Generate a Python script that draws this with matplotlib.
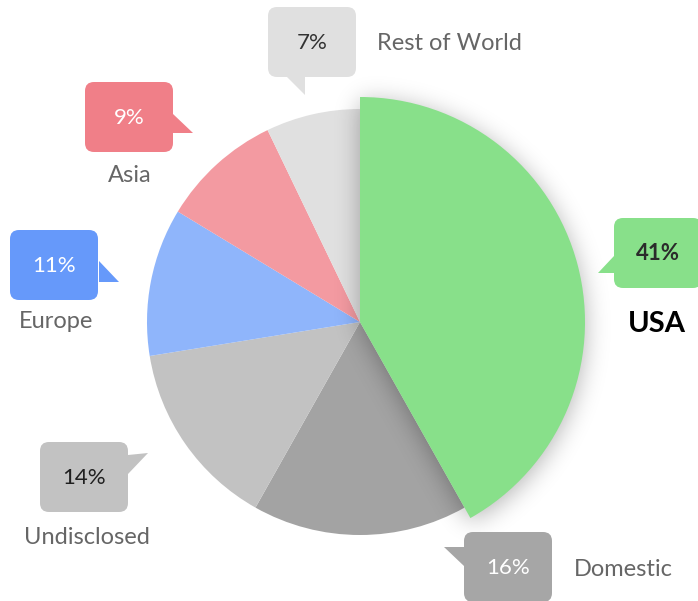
import matplotlib
matplotlib.use('Agg')
import matplotlib.pyplot as plt
from matplotlib.patches import FancyBboxPatch, Polygon
import numpy as np

plt.rcParams['font.family'] = ['Lato', 'DejaVu Sans']

# share of funding by region, in percent
regions = ["USA", "Domestic", "Undisclosed", "Europe", "Asia", "Rest of World"]
shares = [41, 16, 14, 11, 9, 7]

slice_colors = ["#88e08a", "#a3a3a3", "#c2c2c2", "#8fb5fb", "#f39aa1", "#e0e0e0"]
box_colors = ["#88e08a", "#a6a6a6", "#c2c2c2", "#6699fa", "#f07f88", "#e0e0e0"]
pct_colors = ["#2b2b2b", "white", "#1f1f1f", "white", "white", "#333333"]

# callout layout in pixels: box (x0, y0), pointer triangle, label position
W, H = 698, 601
cx, cy, r, r_big = 360, 322, 213, 225
callouts = {
    "USA":           dict(box=(614, 218), tri=[(614, 256), (598, 273), (614, 273)], lab=(657, 324)),
    "Domestic":      dict(box=(464, 532), tri=[(464, 547), (444, 547), (464, 566)], lab=(574, 570)),
    "Undisclosed":   dict(box=(40, 442), tri=[(128, 455), (148, 453), (128, 474)], lab=(87, 538)),
    "Europe":        dict(box=(10, 230), tri=[(99, 261), (119, 282), (99, 282)], lab=(56, 322)),
    "Asia":          dict(box=(85, 82), tri=[(173, 114), (193, 133), (173, 133)], lab=(130, 176)),
    "Rest of World": dict(box=(268, 7), tri=[(287, 77), (305, 95), (305, 77)], lab=(377, 43)),
}
bw, bh = 88, 70

fig = plt.figure(figsize=(W / 100, H / 100), dpi=100)
ax = fig.add_axes([0, 0, 1, 1])

# y axis points down, so counterclock=True runs clockwise on screen from 12 o'clock
wedges, _ = ax.pie(shares, colors=slice_colors, startangle=270, counterclock=True,
                   radius=r, center=(cx, cy), wedgeprops=dict(linewidth=0))
for w in wedges:
    w.set_zorder(1)
usa = wedges[0]
usa.set_radius(r_big)
usa.set_zorder(3)

# soft drop shadow under the USA wedge
yy, xx = np.mgrid[0:H, 0:W] + 0.5
dx, dy = xx - cx, yy - (cy + 4)
ang = np.degrees(np.arctan2(dy, dx)) % 360
t1, t2 = usa.theta1 % 360, usa.theta2 % 360
inside = ((ang >= t1) | (ang <= t2)) if t1 > t2 else ((ang >= t1) & (ang <= t2))
mask = (inside & (np.hypot(dx, dy) <= r_big)).astype(float)
k = np.exp(-0.5 * (np.arange(-36, 37) / 12.0) ** 2)
k /= k.sum()
blur = np.apply_along_axis(lambda v: np.convolve(v, k, mode='same'), 0, mask)
blur = np.apply_along_axis(lambda v: np.convolve(v, k, mode='same'), 1, blur)
shadow = np.zeros((H, W, 4))
shadow[..., 3] = 0.30 * blur
ax.imshow(shadow, extent=(0, W, H, 0), zorder=2, interpolation='bilinear')

for i, name in enumerate(regions):
    c = callouts[name]
    x0, y0 = c["box"]
    ax.add_patch(FancyBboxPatch((x0, y0), bw, bh, boxstyle="round,pad=0,rounding_size=9",
                                fc=box_colors[i], ec="none", zorder=5))
    ax.add_patch(Polygon(c["tri"], closed=True, fc=box_colors[i], ec="none", zorder=5))
    bold = name == "USA"
    ax.text(x0 + bw / 2, y0 + bh / 2 + 1, f"{shares[i]}%", ha="center", va="center",
            fontsize=16, color=pct_colors[i], fontweight="bold" if bold else "normal", zorder=6)
    lx, ly = c["lab"]
    if bold:
        ax.text(lx, ly, name, ha="center", va="center", fontsize=21, fontweight="bold",
                color="black", zorder=6)
    else:
        ax.text(lx, ly, name, ha="left" if name in ("Rest of World", "Domestic") else "center",
                va="center", fontsize=17, color="#666666", zorder=6)

ax.set_xlim(0, W)
ax.set_ylim(H, 0)
ax.set_aspect("equal")
ax.axis("off")

plt.savefig("out.png", dpi=100)
